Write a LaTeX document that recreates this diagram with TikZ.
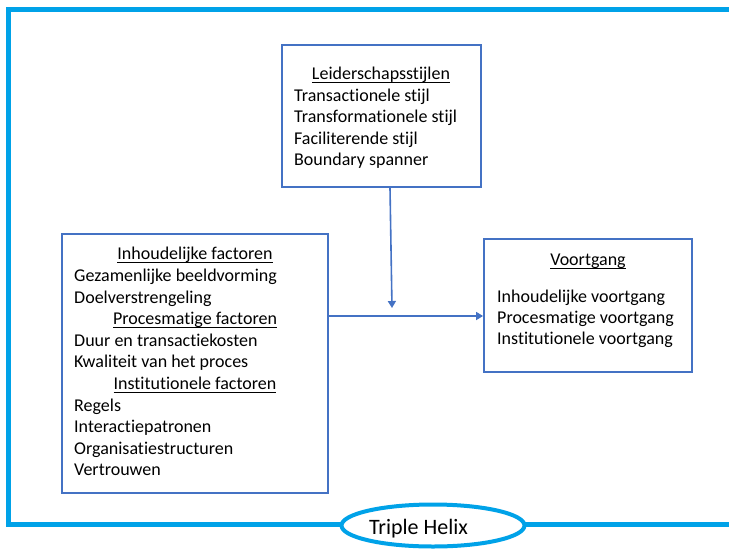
\documentclass[tikz,border=0pt]{standalone}
\usepackage{fontspec}
\setmainfont{Carlito}[Ligatures=NoCommon]
\usetikzlibrary{arrows.meta,shapes.geometric}
\definecolor{framecyan}{RGB}{0,162,232}
\definecolor{boxblue}{RGB}{68,114,196}
% underline drawn at a fixed depth below the baseline
\newcommand{\undl}[1]{\leavevmode\setbox0\hbox{#1}\rlap{\rule[-3pt]{\wd0}{0.9pt}}\box0}
\tikzset{
  panel/.style={draw=boxblue,line width=1.8pt,fill=white,inner sep=0pt},
  txt/.style={anchor=base west,inner sep=0pt,yshift=-1.5pt,font=\fontsize{18}{21}\selectfont},
  head/.style={anchor=base,inner sep=0pt,yshift=-1.5pt,font=\fontsize{18}{21}\selectfont},
  flow/.style={draw=boxblue,line width=1.6pt,-{Triangle[length=7pt,width=8pt]}},
}
\begin{document}
\begin{tikzpicture}[x=1pt,y=-1pt]
\useasboundingbox (0,0) rectangle (729,550);
% outer frame, running past the right edge
\draw[framecyan,line width=5pt] (740,9.5) -- (8.5,9.5) -- (8.5,524.5) -- (740,524.5);
\node[draw=framecyan,line width=4pt,fill=white,ellipse,minimum width=183pt,minimum height=42pt] (helix) at (433,525.5) {};
\node[anchor=base,inner sep=0pt,font=\fontsize{22}{24}\selectfont] (helixtxt) at (418.5,534.5) {Triple Helix};

% three boxes
\node[panel,minimum width=199pt,minimum height=142pt] (lead) at (381.5,116) {};
\node[panel,minimum width=266pt,minimum height=259pt] (fact) at (195,363.5) {};
\node[panel,minimum width=208pt,minimum height=133pt] (prog) at (588,305.5) {};

% leadership styles
\node[head] (l0) at (381,78.3) {\undl{Leiderschapsstijlen}};
\node[txt] (l1) at (294,99.8) {Transactionele stijl};
\node[txt] (l2) at (294,121.3) {Transformationele stijl};
\node[txt] (l3) at (294,142.8) {Faciliterende stijl};
\node[txt] (l4) at (294,164.3) {Boundary spanner};

% factors
\node[head] (f0) at (195,258.3) {\undl{Inhoudelijke factoren}};
\node[txt] (f1) at (74,279.9) {Gezamenlijke beeldvorming};
\node[txt] (f2) at (74,301.5) {Doelverstrengeling};
\node[head] (f3) at (195,323.1) {\undl{Procesmatige factoren}};
\node[txt] (f4) at (74,344.7) {Duur en transactiekosten};
\node[txt] (f5) at (74,366.3) {Kwaliteit van het proces};
\node[head] (f6) at (195,387.9) {\undl{Institutionele factoren}};
\node[txt] (f7) at (74,409.5) {Regels};
\node[txt] (f8) at (74,431.1) {Interactiepatronen};
\node[txt] (f9) at (74,452.7) {Organisatiestructuren};
\node[txt] (f10) at (74,474.3) {Vertrouwen};

% progress
\node[head] (p0) at (588,264.3) {\undl{Voortgang}};
\node[txt] (p1) at (497,300.7) {Inhoudelijke voortgang};
\node[txt] (p2) at (497,321.9) {Procesmatige voortgang};
\node[txt] (p3) at (497,343.1) {Institutionele voortgang};

% connectors
\coordinate (meet) at (392,308);
\draw[flow] (lead.south -| 390,0) -- (meet);
\draw[flow] (fact.east |- 0,316) -- (prog.west |- 0,316);
\end{tikzpicture}
\end{document}
